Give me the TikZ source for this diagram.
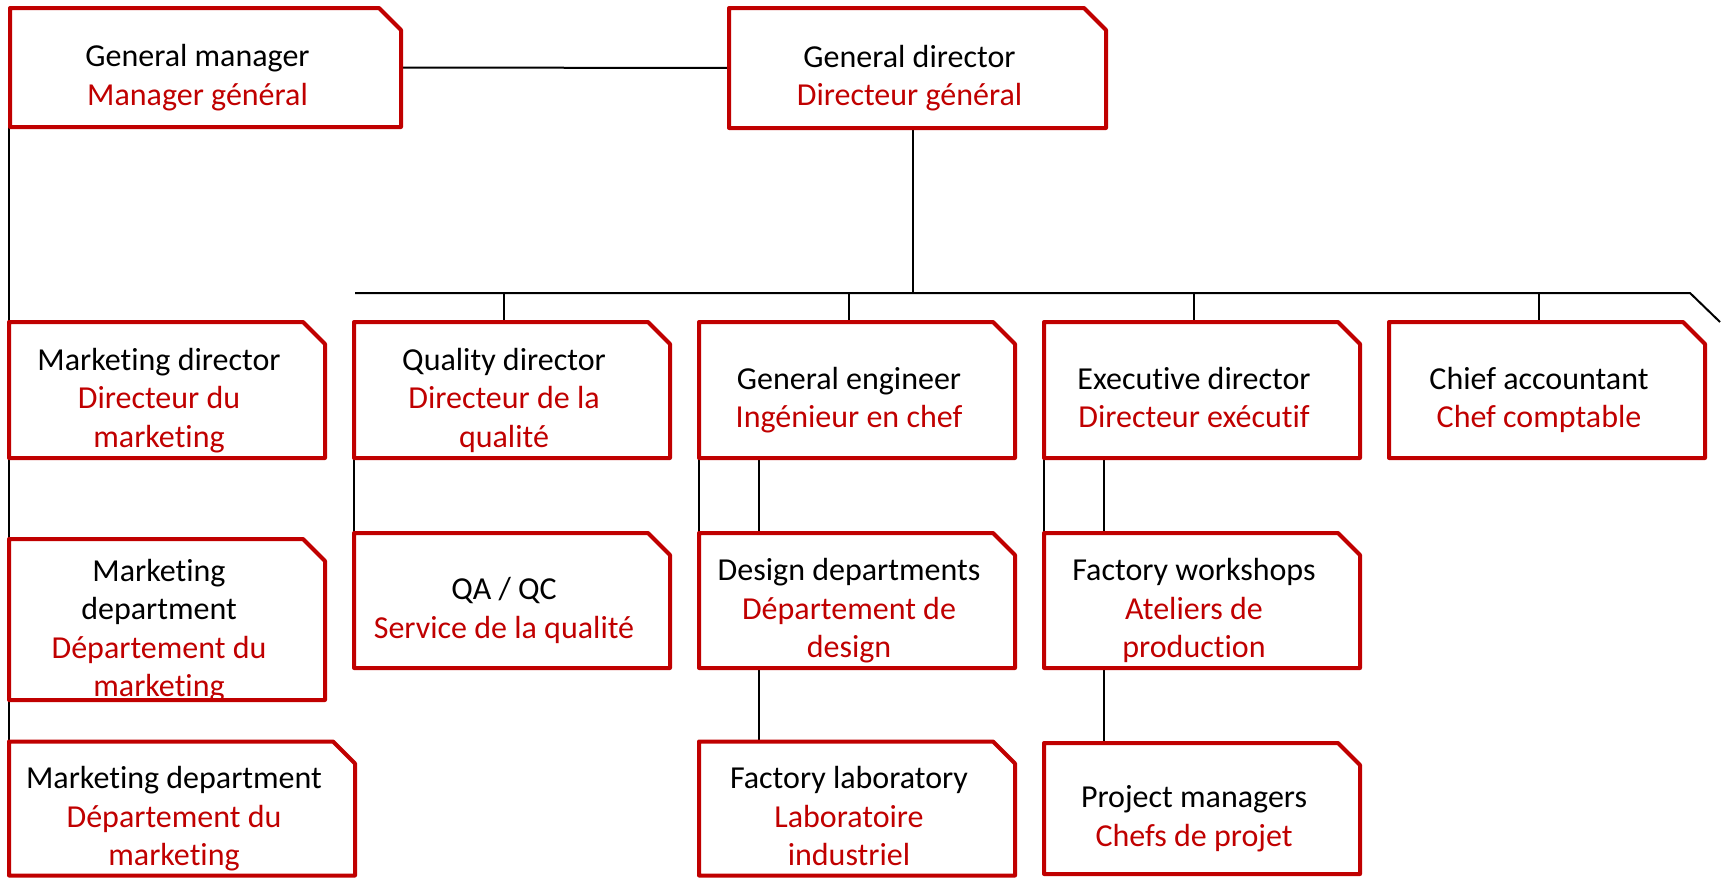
\documentclass[tikz,border=0pt]{standalone}
\usepackage{fontspec}
\setmainfont{Carlito}[Ligatures=NoCommon]

\definecolor{orgred}{HTML}{C00000}
\newcommand{\fr}[1]{\textcolor{orgred}{#1\rule[-5pt]{0pt}{5pt}}}
\newcommand{\lift}[1][23.5pt]{\rule{0pt}{#1}}

\begin{document}
\begin{tikzpicture}[x=0.5pt, y=-0.5pt,
  orgbox/.style={rectangle, inner sep=0pt, outer sep=0pt, align=center,
    minimum width=150pt, minimum height=68pt,
    font=\fontsize{16pt}{19.25pt}\selectfont},
  boxline/.style={draw=orgred, line width=2pt, line join=round},
  link/.style={draw=black, line width=1pt}]

\useasboundingbox (0,0) rectangle (1723,878);

% --------- Top row ----------
\node[orgbox, minimum width=187.5pt, minimum height=59.5pt] (gm) at (197.5,67.5)
  {\lift General manager\\\fr{Manager général}};
\node[orgbox, minimum width=180.5pt, minimum height=60pt] (gd) at (909.5,68)
  {\lift General director\\\fr{Directeur général}};

% --------- Directors ----------
\node[orgbox] (mdir) at (159,390) {\lift Marketing director\\\fr{Directeur du}\\\fr{marketing}};
\node[orgbox] (qdir) at (504,390) {\lift Quality director\\\fr{Directeur de la}\\\fr{qualité}};
\node[orgbox] (geng) at (849,390) {\lift General engineer\\\fr{Ingénieur en chef}};
\node[orgbox] (edir) at (1194,390) {\lift Executive director\\\fr{Directeur exécutif}};
\node[orgbox] (cacc) at (1539,390) {\lift Chief accountant\\\fr{Chef comptable}};

% --------- Departments ----------
\node[orgbox, minimum height=80.5pt, inner ysep=-4pt] (mdep) at (159,619.5)
  {\lift[24.5pt]Marketing\\department\\\fr{Département du}\\\fr{marketing}};
\node[orgbox, minimum height=67.5pt] (qaqc) at (504,600.5) {\lift QA / QC\\\fr{Service de la qualité}};
\node[orgbox, minimum height=67.5pt] (ddep) at (849,600.5) {\lift Design departments\\\fr{Département de}\\\fr{design}};
\node[orgbox, minimum height=67.5pt] (fws) at (1194,600.5) {\lift Factory workshops\\\fr{Ateliers de}\\\fr{production}};

% --------- Bottom row ----------
\node[orgbox, minimum width=165pt, minimum height=65.5pt] (mdep2) at (174,808.5)
  {\lift Marketing department\\\fr{Département du}\\\fr{marketing}};
\node[orgbox, minimum height=65.5pt] (flab) at (849,808.5) {\lift Factory laboratory\\\fr{Laboratoire}\\\fr{industriel}};
\node[orgbox, minimum height=65.5pt] (pman) at (1194,808.5) {\lift Project managers\\\fr{Chefs de projet}};

% --------- Connectors ----------
\coordinate (busL) at (355,293);
\coordinate (busR) at (1690,293);
\coordinate (busEnd) at (1720,322);
\draw[link] (busL) -- (busR) -- (busEnd);
\draw[link] ([xshift=1.75pt]gd.south) -- ([xshift=1.75pt]gd.south |- busL);
\foreach \n in {qdir,geng,edir,cacc}
  \draw[link] (\n.north) -- (\n.north |- busL);

\draw[link] ([xshift=7.5pt]gm.east) -- (gd.west);
\draw[link] ([xshift=-0.5pt]gm.south west) -- (mdir.north west);
\draw[link] (mdir.south west) -- (mdep.north west);
\draw[link] (mdep.south west) -- (mdep2.north west);
\draw[link] (qdir.south west) -- (qaqc.north west);
\draw[link] (geng.south west) -- (ddep.north west);
\draw[link] ([xshift=30pt]geng.south west) -- ([xshift=30pt]ddep.north west);
\draw[link] ([xshift=30pt]ddep.south west) -- ([xshift=30pt]flab.north west);
\draw[link] (edir.south west) -- (fws.north west);
\draw[link] ([xshift=30pt]edir.south west) -- ([xshift=30pt]fws.north west);
\draw[link] ([xshift=30pt]fws.south west) -- ([xshift=30pt]pman.north west);

% --------- Box outlines (cut corner top right) ----------
\foreach \n in {gm,gd,mdir,qdir,geng,edir,cacc,mdep,qaqc,ddep,fws,mdep2,flab,pman}
  \draw[boxline] (\n.south west) -- (\n.north west) -- ([xshift=-3pt]\n.north east)
    -- ([xshift=8pt,yshift=-11pt]\n.north east) -- ([xshift=8pt]\n.south east) -- cycle;

\end{tikzpicture}
\end{document}
